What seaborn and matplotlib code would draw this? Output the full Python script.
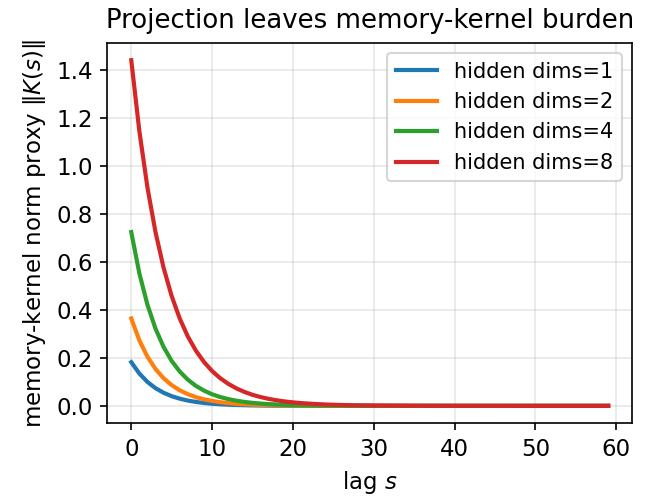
import pandas as pd
import seaborn as sns
import matplotlib.pyplot as plt
from matplotlib.ticker import MultipleLocator

# lag values (dense near zero, sparse in the flat tail)
lags = list(range(31)) + [35, 40, 45, 50, 55, 59]

dims_1 = [0.182, 0.1347, 0.0997, 0.0737, 0.0546, 0.0404, 0.0299, 0.0221, 0.0164, 0.0121,
          0.0090, 0.0066, 0.0049, 0.0036, 0.0027, 0.0020, 0.0015, 0.0011, 0.0008, 0.0006,
          0.0004, 0.0003, 0.0002, 0.0002, 0.0001, 0.0001, 0.0001, 0.0, 0.0, 0.0,
          0.0, 0.0, 0.0, 0.0, 0.0, 0.0, 0.0]
dims_2 = [0.364, 0.273, 0.2048, 0.1536, 0.1152, 0.0864, 0.0648, 0.0486, 0.0364, 0.0273,
          0.0205, 0.0154, 0.0115, 0.0086, 0.0065, 0.0049, 0.0036, 0.0027, 0.0021, 0.0015,
          0.0012, 0.0009, 0.0007, 0.0005, 0.0004, 0.0003, 0.0002, 0.0002, 0.0001, 0.0001,
          0.0001, 0.0, 0.0, 0.0, 0.0, 0.0, 0.0]
dims_4 = [0.724, 0.5524, 0.4215, 0.3216, 0.2454, 0.1872, 0.1428, 0.1090, 0.0832, 0.0635,
          0.0484, 0.0369, 0.0282, 0.0215, 0.0164, 0.0125, 0.0096, 0.0073, 0.0056, 0.0042,
          0.0032, 0.0025, 0.0019, 0.0014, 0.0011, 0.0008, 0.0006, 0.0005, 0.0004, 0.0003,
          0.0002, 0.0001, 0.0, 0.0, 0.0, 0.0, 0.0]
dims_8 = [1.44, 1.1448, 0.9101, 0.7235, 0.5752, 0.4573, 0.3635, 0.2890, 0.2298, 0.1827,
          0.1452, 0.1154, 0.0918, 0.0730, 0.0580, 0.0461, 0.0367, 0.0291, 0.0232, 0.0184,
          0.0146, 0.0116, 0.0093, 0.0074, 0.0058, 0.0047, 0.0037, 0.0029, 0.0023, 0.0019,
          0.0015, 0.0005, 0.0002, 0.0001, 0.0, 0.0, 0.0]

series = {
    "hidden dims=1": dims_1,
    "hidden dims=2": dims_2,
    "hidden dims=4": dims_4,
    "hidden dims=8": dims_8,
}

rows = []
for name, vals in series.items():
    for s, v in zip(lags, vals):
        rows.append({"lag": s, "norm": v, "series": name})
df = pd.DataFrame(rows)

plt.rcParams["font.size"] = 11

fig, ax = plt.subplots(figsize=(659 / 150, 499 / 150), dpi=150)
sns.lineplot(data=df, x="lag", y="norm", hue="series", palette="tab10",
             linewidth=2, ax=ax)

ax.yaxis.set_major_locator(MultipleLocator(0.2))
ax.grid(True, alpha=0.3)
ax.set_title("Projection leaves memory-kernel burden", fontsize=12.5, pad=7)
ax.set_xlabel("lag $s$")
ax.set_ylabel(r"memory-kernel norm proxy $\|K(s)\|$")
ax.legend(title=None, loc="upper right", fontsize=10)

# match the reference's plot area
fig.subplots_adjust(left=0.163, right=0.959, top=0.914, bottom=0.152)
plt.savefig("out.png", dpi=150)
